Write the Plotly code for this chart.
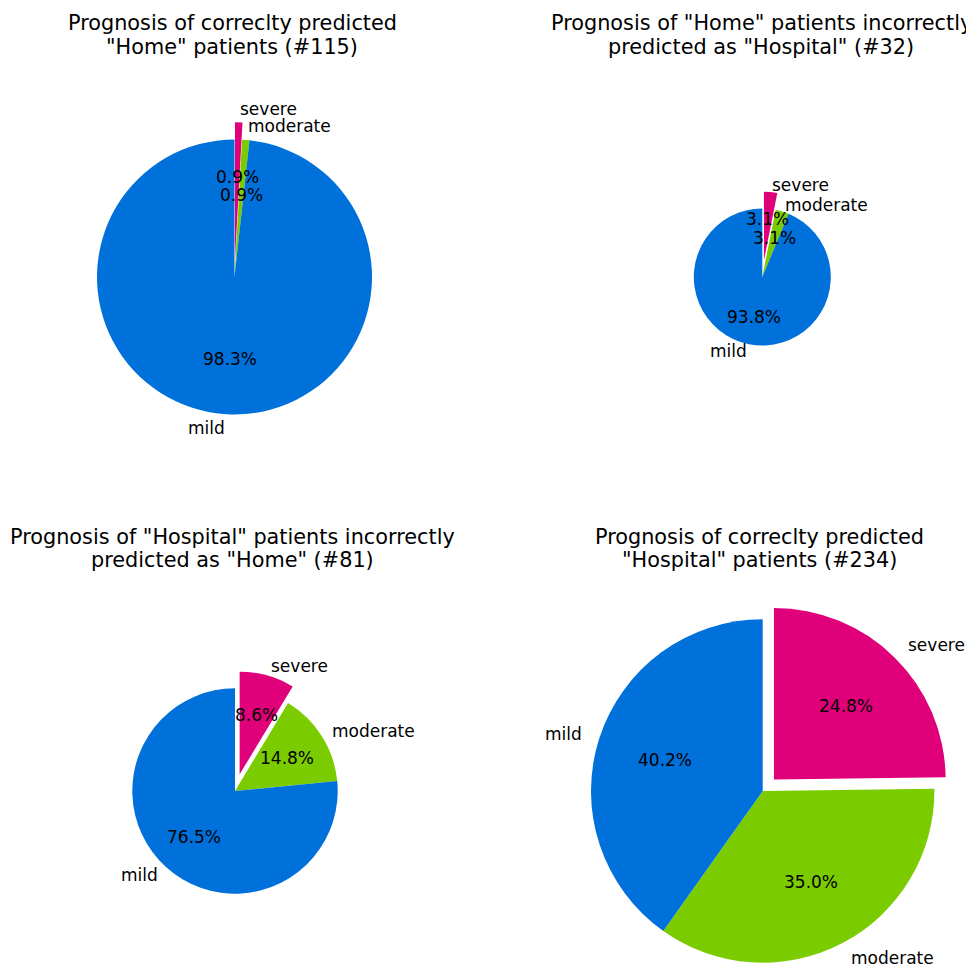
import math
import plotly.graph_objects as go

W, H = 966, 965

# ---- data ----
categories = ["severe", "moderate", "mild"]
home_correct = [1, 1, 113]          # correctly predicted "Home" (#115)
home_as_hospital = [1, 1, 30]       # "Home" predicted as "Hospital" (#32)
hospital_as_home = [7, 12, 62]      # "Hospital" predicted as "Home" (#81)
hospital_correct = [58, 82, 94]     # correctly predicted "Hospital" (#234)

titles = [
    ['Prognosis of correclty predicted', '"Home" patients (#115)'],
    ['Prognosis of "Home" patients incorrectly', 'predicted as "Hospital" (#32)'],
    ['Prognosis of "Hospital" patients incorrectly', 'predicted as "Home" (#81)'],
    ['Prognosis of correclty predicted', '"Hospital" patients (#234)'],
]
exploded = ["severe"]

colors = {"severe": "#E0007A", "moderate": "#7ACC00", "mild": "#0070DB"}
CLEAR = "rgba(0,0,0,0)"
FONT = "DejaVu Sans"

# ---- layout (pixel geometry of each pie) ----
pies = [
    dict(values=home_correct, title=titles[0], cx=234.5, cy=277.0, r=137.5, d=17.3, tx=232, ty=(23, 46.5)),
    dict(values=home_as_hospital, title=titles[1], cx=762.3, cy=277.0, r=68.5, d=16.8, tx=761, ty=(23, 46.5)),
    dict(values=hospital_as_home, title=titles[2], cx=235.0, cy=791.0, r=102.7, d=17.3, tx=232, ty=(537, 560)),
    dict(values=hospital_correct, title=titles[3], cx=762.7, cy=791.0, r=171.7, d=16.0, tx=759, ty=(537, 560)),
]


def px_x(x):
    return x / W


def px_y(y):
    return 1 - y / H


fig = go.Figure()
annotations = []

for p in pies:
    vals = p["values"]
    total = sum(vals)
    cx, cy, r, d = p["cx"], p["cy"], p["r"], p["d"]

    # mid angles (clockwise from 12 o'clock)
    mids = []
    start = 0.0
    for v in vals:
        frac = v / total
        mids.append(math.radians(start + frac * 180.0))
        start += frac * 360.0

    for part in ("base", "pulled"):
        if part == "base":
            fills = [CLEAR if c in exploded else colors[c] for c in categories]
            ox, oy = cx, cy
        else:
            fills = [colors[c] if c in exploded else CLEAR for c in categories]
            th = mids[categories.index(exploded[0])]
            ox, oy = cx + d * math.sin(th), cy - d * math.cos(th)
        fig.add_trace(go.Pie(
            labels=categories, values=vals, sort=False, direction="clockwise",
            rotation=0, textinfo="none", hoverinfo="skip", showlegend=False,
            marker=dict(colors=fills, line=dict(color=CLEAR, width=0)),
            domain=dict(x=[px_x(ox - r), px_x(ox + r)], y=[px_y(oy + r), px_y(oy - r)]),
        ))

    # texts: percentages at 0.6 r, labels at 1.1 r
    for c, v, th in zip(categories, vals, mids):
        e = d if c in exploded else 0.0
        wx, wy = cx + e * math.sin(th), cy - e * math.cos(th)
        s, co = math.sin(th), math.cos(th)
        annotations.append(dict(
            x=px_x(wx + 0.6 * r * s), y=px_y(wy - 0.6 * r * co), xref="paper", yref="paper",
            text="%1.1f%%" % (100.0 * v / total), showarrow=False, xanchor="center", yanchor="middle",
            font=dict(family=FONT, size=17, color="black"), borderpad=0,
        ))
        lx = wx + 1.1 * r * s
        annotations.append(dict(
            x=px_x(lx), y=px_y(wy - 1.1 * r * co), xref="paper", yref="paper",
            text=c, showarrow=False, xanchor="left" if (lx - cx) > 0 else "right", yanchor="middle",
            font=dict(family=FONT, size=17, color="black"), borderpad=0,
        ))

    for line, ty in zip(p["title"], p["ty"]):
        annotations.append(dict(
            x=px_x(p["tx"]), y=px_y(ty), xref="paper", yref="paper", text=line,
            showarrow=False, xanchor="center", yanchor="middle",
            font=dict(family=FONT, size=20.8, color="black"), borderpad=0,
        ))

fig.update_layout(
    width=W, height=H, margin=dict(l=0, r=0, t=0, b=0),
    paper_bgcolor="white", plot_bgcolor="white",
    showlegend=False, annotations=annotations,
)

fig.write_html(
    "out.html",
    config={"displayModeBar": False},
    post_script="document.body.style.margin='0px';document.body.style.overflow='hidden';",
)
